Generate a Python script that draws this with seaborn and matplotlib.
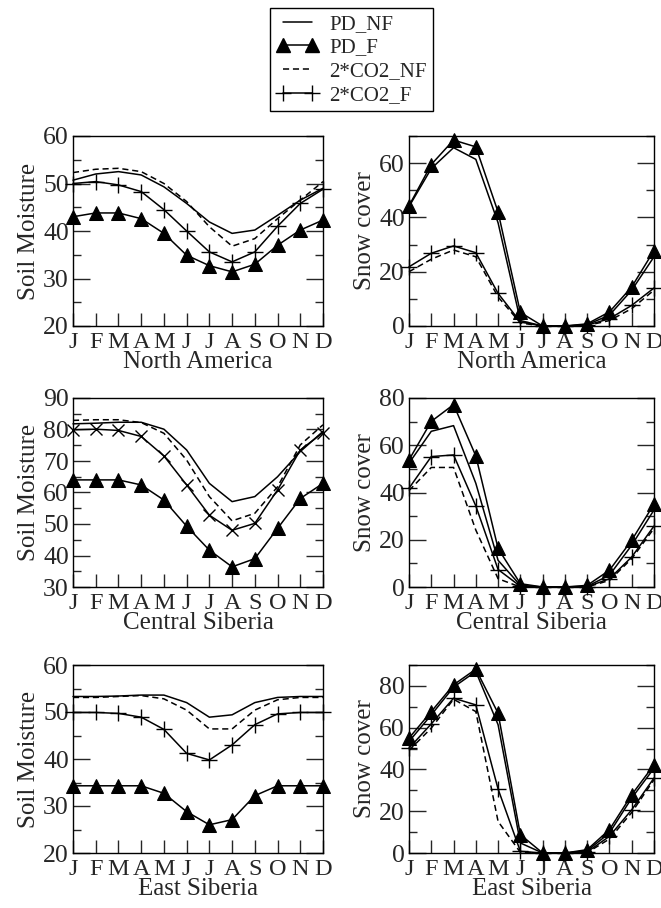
import matplotlib
matplotlib.use("Agg")
import matplotlib.pyplot as plt
import seaborn as sns
import numpy as np
import pandas as pd
from matplotlib.ticker import MultipleLocator
from matplotlib.lines import Line2D

months = ["J", "F", "M", "A", "M", "J", "J", "A", "S", "O", "N", "D"]
series_names = ["PD_NF", "PD_F", "2*CO2_NF", "2*CO2_F"]

# North America soil moisture
na_sm_pd_nf = [50.7, 52.0, 52.5, 51.8, 49.3, 45.8, 41.9, 39.5, 40.2, 43.3, 46.5, 49.0]
na_sm_pd_f = [43.0, 43.8, 43.8, 42.6, 39.5, 34.9, 32.7, 31.4, 33.0, 37.0, 40.2, 42.3]
na_sm_co2_nf = [52.3, 53.0, 53.2, 52.5, 50.0, 46.2, 40.9, 36.8, 38.4, 42.6, 46.5, 50.4]
na_sm_co2_f = [50.0, 50.4, 49.7, 48.3, 44.5, 40.0, 35.6, 33.5, 35.6, 41.0, 45.8, 48.8]

# North America snow cover
na_sc_pd_nf = [44.0, 58.0, 65.7, 61.4, 38.0, 2.0, 0.0, 0.0, 0.5, 4.0, 13.2, 25.5]
na_sc_pd_f = [44.3, 59.5, 68.5, 66.0, 42.0, 5.0, 0.0, 0.0, 0.8, 5.2, 14.4, 27.8]
na_sc_co2_nf = [20.0, 24.6, 28.0, 25.5, 10.7, 1.1, 0.0, 0.0, 0.2, 2.0, 6.4, 13.2]
na_sc_co2_f = [21.8, 26.8, 29.5, 27.0, 12.0, 1.5, 0.0, 0.0, 0.3, 2.7, 7.6, 14.0]

# Central Siberia soil moisture
cs_sm_pd_nf = [81.8, 82.0, 82.3, 82.3, 80.1, 73.5, 62.9, 57.1, 58.7, 65.0, 73.0, 79.4]
cs_sm_pd_f = [64.0, 64.0, 64.0, 62.4, 57.6, 49.3, 41.7, 36.4, 39.0, 48.6, 58.1, 62.9]
cs_sm_co2_nf = [82.9, 83.1, 83.1, 82.2, 78.8, 70.3, 58.7, 51.0, 53.4, 61.8, 75.1, 81.5]
cs_sm_co2_f = [79.9, 80.1, 79.7, 77.8, 71.6, 62.4, 52.8, 48.0, 50.2, 60.8, 73.5, 79.0]

# Central Siberia snow cover
cs_sc_pd_nf = [52.4, 65.9, 68.3, 43.9, 11.3, 0.7, 0.0, 0.0, 0.3, 5.0, 17.7, 32.6]
cs_sc_pd_f = [53.8, 70.1, 77.2, 55.5, 16.3, 1.4, 0.0, 0.0, 0.7, 7.1, 19.8, 35.1]
cs_sc_co2_nf = [40.8, 50.6, 50.6, 24.1, 3.5, 0.0, 0.0, 0.0, 0.0, 2.8, 12.0, 24.8]
cs_sc_co2_f = [41.8, 55.2, 55.9, 34.3, 7.4, 0.3, 0.0, 0.0, 0.1, 3.5, 12.7, 25.8]

# East Siberia soil moisture
es_sm_pd_nf = [53.3, 53.3, 53.4, 53.6, 53.6, 52.0, 48.9, 49.4, 52.0, 53.1, 53.3, 53.3]
es_sm_pd_f = [34.3, 34.3, 34.3, 34.3, 32.7, 28.8, 26.0, 27.1, 32.2, 34.3, 34.3, 34.3]
es_sm_co2_nf = [53.1, 53.1, 53.3, 53.5, 52.8, 50.4, 46.4, 46.4, 50.4, 52.6, 53.1, 53.1]
es_sm_co2_f = [49.9, 49.9, 49.7, 48.9, 46.3, 41.2, 39.8, 43.0, 47.3, 49.6, 49.9, 49.9]

# East Siberia snow cover
es_sc_pd_nf = [53.4, 66.1, 79.4, 86.9, 61.4, 4.8, 0.0, 0.0, 1.1, 9.6, 26.3, 40.6]
es_sc_pd_f = [55.0, 67.7, 80.5, 88.0, 66.9, 8.8, 0.0, 0.0, 1.6, 11.2, 27.9, 42.2]
es_sc_co2_nf = [49.1, 59.8, 73.6, 67.7, 15.1, 0.3, 0.0, 0.0, 0.2, 6.7, 19.4, 35.1]
es_sc_co2_f = [50.2, 61.8, 74.1, 70.9, 30.6, 0.8, 0.0, 0.0, 0.5, 8.0, 20.7, 35.9]

regions = ["North America", "Central Siberia", "East Siberia"]

sns.set_style("ticks")
plt.rcParams["font.family"] = ["Liberation Serif", "DejaVu Serif"]
plt.rcParams["axes.linewidth"] = 1.0

fig = plt.figure(figsize=(6.61, 9.08), dpi=100)

left_x, left_w = 73 / 661, 250 / 661
right_x, right_w = 409 / 661, 245 / 661
rows = [(136, 326), (398, 587), (665, 853)]

panels = [
    ("North America", "sm", [na_sm_pd_nf, na_sm_pd_f, na_sm_co2_nf, na_sm_co2_f], (20, 60), 10, 5, "+"),
    ("North America", "sc", [na_sc_pd_nf, na_sc_pd_f, na_sc_co2_nf, na_sc_co2_f], (0, 70), 20, 10, "+"),
    ("Central Siberia", "sm", [cs_sm_pd_nf, cs_sm_pd_f, cs_sm_co2_nf, cs_sm_co2_f], (30, 90), 10, 5, "x"),
    ("Central Siberia", "sc", [cs_sc_pd_nf, cs_sc_pd_f, cs_sc_co2_nf, cs_sc_co2_f], (0, 80), 20, 10, "+"),
    ("East Siberia", "sm", [es_sm_pd_nf, es_sm_pd_f, es_sm_co2_nf, es_sm_co2_f], (20, 60), 10, 5, "+"),
    ("East Siberia", "sc", [es_sc_pd_nf, es_sc_pd_f, es_sc_co2_nf, es_sc_co2_f], (0, 90), 20, 10, "+"),
]

x = np.arange(len(months))
for i, (region, kind, data, ylim, major, minor, co2mk) in enumerate(panels):
    r = i // 2
    top, bot = rows[r]
    if kind == "sm":
        ax = fig.add_axes([left_x, 1 - bot / 908, left_w, (bot - top) / 908])
    else:
        ax = fig.add_axes([right_x, 1 - bot / 908, right_w, (bot - top) / 908])
    styles = [
        dict(linestyle="-", marker=None),
        dict(linestyle="-", marker="^", markersize=10, markerfacecolor="k", markeredgecolor="k"),
        dict(linestyle=(0, (4, 2.5)), marker=None),
        dict(linestyle="-", marker=co2mk, markersize=11 if co2mk == "+" else 8,
             markeredgewidth=1.0, markeredgecolor="k"),
    ]
    for vals, st in zip(data, styles):
        df = pd.DataFrame({"month": x, "value": vals})
        sns.lineplot(data=df, x="month", y="value", ax=ax, color="k", linewidth=1.1,
                     clip_on=False, zorder=3, **st)
    ax.set_xlim(0, 11)
    ax.set_ylim(*ylim)
    ax.set_xticks(x)
    ax.set_xticklabels(months)
    ax.yaxis.set_major_locator(MultipleLocator(major))
    ax.yaxis.set_minor_locator(MultipleLocator(minor))
    ax.tick_params(axis="y", which="major", direction="in", length=12, width=1.0,
                   left=True, right=True, labelsize=18.5, pad=3)
    ax.tick_params(axis="y", which="minor", direction="in", length=6, width=1.0,
                   left=True, right=True)
    ax.tick_params(axis="x", which="major", direction="in", length=9.5, width=1.0,
                   bottom=True, top=False, labelsize=17.5, pad=4)
    ax.set_xlabel(region, fontsize=18, labelpad=-1)
    ax.set_ylabel("Soil Moisture" if kind == "sm" else "Snow cover", fontsize=18, labelpad=2)
    for s in ax.spines.values():
        s.set_visible(True)
        s.set_color("k")
        s.set_linewidth(1.0)

handles = [
    Line2D([], [], color="k", lw=1.1, linestyle="-"),
    Line2D([], [], color="k", lw=1.1, linestyle="-", marker="^", markersize=10),
    Line2D([], [], color="k", lw=1.1, linestyle=(0, (4, 2.5))),
    Line2D([], [], color="k", lw=1.1, linestyle="-", marker="+", markersize=11, markeredgewidth=1.0),
]
leg = fig.legend(handles, series_names, loc="upper left", bbox_to_anchor=(270 / 661, 1 - 8 / 908),
                 frameon=True, fancybox=False, edgecolor="k", fontsize=15, numpoints=2,
                 handlelength=2.0, handletextpad=0.55, borderpad=0.3, labelspacing=0.2,
                 borderaxespad=0, framealpha=1)
leg.get_frame().set_linewidth(1.0)

fig.savefig("out.png", dpi=100)
